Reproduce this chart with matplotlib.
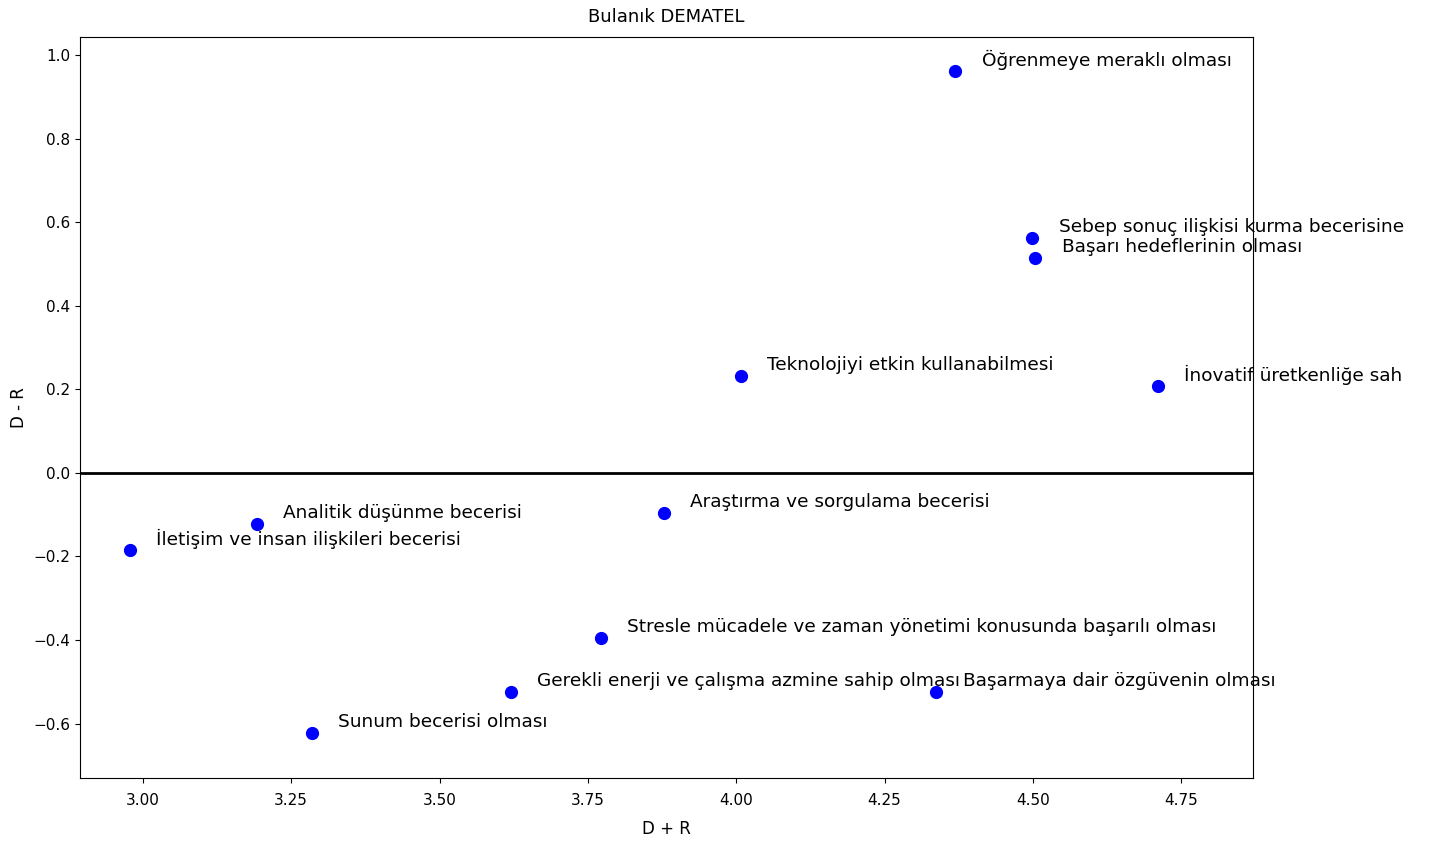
import matplotlib
matplotlib.use("Agg")
import matplotlib.pyplot as plt

# criteria (labels as visible in the figure)
labels = [
    "Öğrenmeye meraklı olması",
    "Sebep sonuç ilişkisi kurma becerisine",
    "Başarı hedeflerinin olması",
    "Teknolojiyi etkin kullanabilmesi",
    "İnovatif üretkenliğe sah",
    "Araştırma ve sorgulama becerisi",
    "Analitik düşünme becerisi",
    "İletişim ve insan ilişkileri becerisi",
    "Stresle mücadele ve zaman yönetimi konusunda başarılı olması",
    "Gerekli enerji ve çalışma azmine sahip olması",
    "Başarmaya dair özgüvenin olması",
    "Sunum becerisi olması",
]
d_plus_r = [4.369, 4.499, 4.504, 4.008, 4.710, 3.878, 3.192, 2.978, 3.772, 3.620, 4.337, 3.285]
d_minus_r = [0.962, 0.562, 0.514, 0.232, 0.208, -0.096, -0.122, -0.184, -0.395, -0.524, -0.524, -0.622]

fig = plt.figure(figsize=(14.35, 8.43), dpi=100)
ax = fig.add_axes([0.0557, 0.0771, 0.8175, 0.879])

ax.plot(d_plus_r, d_minus_r, 'o', color='blue', markersize=8.5)
ax.axhline(0, color='black', linewidth=2)

for x, y, lab in zip(d_plus_r, d_minus_r, labels):
    ax.annotate(lab, (x, y), xytext=(19, 8), textcoords='offset points',
                va='center', ha='left', fontsize=13.3, annotation_clip=False)

ax.set_xlim(2.894, 4.871)
ax.set_ylim(-0.730, 1.043)
ax.set_xticks([3.00, 3.25, 3.50, 3.75, 4.00, 4.25, 4.50, 4.75])
ax.set_yticks([-0.6, -0.4, -0.2, 0.0, 0.2, 0.4, 0.6, 0.8, 1.0])
ax.tick_params(labelsize=11)
ax.tick_params(axis='x', pad=7)

ax.set_title("Bulanık DEMATEL", fontsize=13, pad=11)
ax.set_xlabel("D + R", fontsize=12, labelpad=9)
ax.set_ylabel("D - R", fontsize=12)

fig.savefig("out.png", dpi=100)
